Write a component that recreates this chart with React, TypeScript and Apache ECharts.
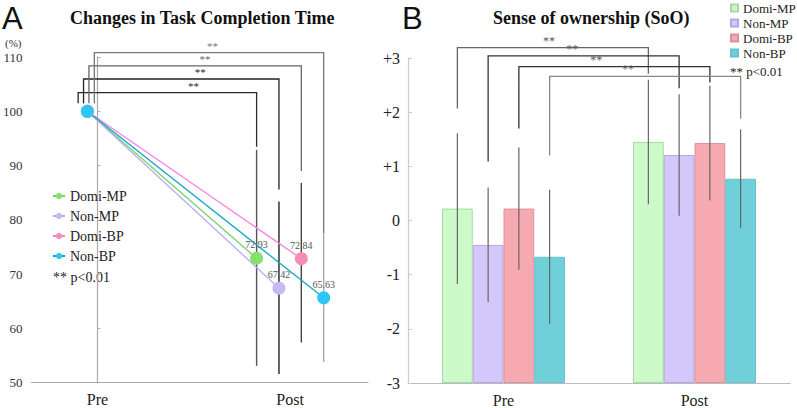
import React, { useEffect, useRef } from "react";
import * as echarts from "echarts";

// ---------- data ----------
const groups = ["Domi-MP", "Non-MP", "Domi-BP", "Non-BP"];
const phases = ["Pre", "Post"];

// Panel A: task completion time (%)
const timePre = [100, 100, 100, 100];
const timePost = [72.93, 67.42, 72.84, 65.63];
const timePostLow = [53.1, 51.6, 57.4, 53.8];
const timePostHigh = [92.9, 83.4, 86.8, 77.5];

// Panel B: sense of ownership
const sooPre = [0.22, -0.45, 0.22, -0.67];
const sooPost = [1.45, 1.21, 1.43, 0.77];
const sooPreSD = [1.39, 1.06, 1.13, 1.24];
const sooPostSD = [1.15, 1.12, 1.06, 0.91];

const sigMark = "**";
const sigNote = "** p<0.01";
const unitA = "(%)";
const titleA = "Changes in Task Completion Time";
const titleB = "Sense of ownership (SoO)";

// ---------- styles ----------
const SERIF = "'Liberation Serif', 'Times New Roman', serif";
const SANS = "'Liberation Sans', Arial, sans-serif";
const pointColors = ["#84e26c", "#c6b8f2", "#f38fb5", "#2ec6f5"];
const lineColors = ["#6fd46a", "#b9aaf0", "#f77fe6", "#14a7c2"];
const errColorsA = ["#555", "#222", "#444", "#aaa"];
const bracketColorsA = ["#2a2a2a", "#222", "#666", "#777"];
const barColors = ["#ccfac8", "#d4c8fa", "#f7a9b2", "#6fd0da"];
const barBorders = ["#a9d8a4", "#b4a6e0", "#dc929b", "#66c2cc"];
const bracketColorsB = ["#666", "#333", "#333", "#888"];

// layout (panel A, x in category units: Pre = 0, Post = 1)
const preX = -0.052;
const postX = (i: number) => 1 + (i - 1.5) * 0.116;
const preLegX = (i: number) => -0.1 + i * 0.028;
const bracketLevelA = [103.45, 105.95, 108.35, 110.8];
const legBottomA = 101.5;
const legGapA = [3, 12, 12, 0];
const starFracA = [0.646, 0.597, 0.547, 0.515];

// layout (panel B)
const barCatGap = 0.356;
const bracketLevelB = [3.19, 3.04, 2.84, 2.66];
const leftLegB = [2.07, 1.09, 1.7, 1.2];
const rightLegB = [2.71, 2.44, 2.55, 1.88];
const starFracB = [0.48, 0.44, 0.405, 0.41];

function noteText(x: number, y: number, text: string, size: number, family: string, color = "#222"): any {
  return {
    type: "text",
    x,
    y,
    style: {
      text,
      fontFamily: family,
      fontSize: size,
      fill: color,
      verticalAlign: "middle",
      width: 200,
      overflow: "none",
    },
  };
}

function optionA(): any {
  const lines = groups.map((g, i) => ({
    type: "line",
    name: g,
    data: [
      [preX, timePre[i]],
      { value: [postX(i), timePost[i]], label: { show: true } },
    ],
    symbol: "circle",
    symbolSize: 13,
    z: 3,
    itemStyle: { color: pointColors[i], borderWidth: 0 },
    lineStyle: { color: lineColors[i], width: 1.3 },
    label: {
      show: false,
      position: "top",
      distance: 2,
      fontSize: 10,
      fontFamily: SERIF,
      color: "#555",
      formatter: (p: any) => Number(p.value[1]).toFixed(2),
    },
    emphasis: { disabled: true },
  }));

  const errSeries = {
    type: "custom",
    z: 2,
    itemStyle: { color: "#444" },
    data: groups.map((_, i) => [postX(i), timePostLow[i], timePostHigh[i], i]),
    renderItem: (params: any, api: any) => {
      const i = params.dataIndex;
      const x = postX(i);
      const p1 = api.coord([x, timePostLow[i]]);
      const p2 = api.coord([x, timePostHigh[i]]);
      return {
        type: "line",
        shape: { x1: p1[0], y1: p1[1], x2: p2[0], y2: p2[1] },
        style: { stroke: errColorsA[i], lineWidth: 1.4 },
      };
    },
  };

  const bracketSeries = {
    type: "custom",
    z: 2,
    itemStyle: { color: "#444" },
    data: groups.map((_, i) => ({ value: [i], itemStyle: { color: bracketColorsA[i] } })),
    renderItem: (params: any, api: any) => {
      const i = params.dataIndex;
      const xl = api.coord([preLegX(i), 100])[0];
      const xr = api.coord([postX(i), 100])[0];
      const yb = api.coord([0, bracketLevelA[i]])[1];
      const yl = api.coord([0, legBottomA])[1];
      const yr = api.coord([0, timePostHigh[i]])[1] - legGapA[i];
      return {
        type: "group",
        children: [
          {
            type: "polyline",
            shape: { points: [[xl, yl], [xl, yb], [xr, yb], [xr, yr]] },
            style: { stroke: bracketColorsA[i], lineWidth: 1.3, fill: null },
          },
          {
            type: "text",
            x: xl + starFracA[i] * (xr - xl),
            y: yb - 1,
            style: {
              text: sigMark,
              fontSize: 11,
              fontFamily: SERIF,
              fill: bracketColorsA[i],
              align: "center",
              verticalAlign: "bottom",
            },
          },
        ],
      };
    },
  };

  return {
    animation: false,
    title: {
      text: titleA,
      left: 65,
      top: 4,
      textStyle: { fontFamily: SERIF, fontSize: 18, fontWeight: "bold", color: "#111" },
    },
    graphic: [
      noteText(2, 18, "A", 31, SANS, "#111"),
      noteText(5, 43, unitA, 11, SERIF, "#333"),
      noteText(53, 277, sigNote, 14, SERIF),
    ],
    legend: {
      data: groups,
      orient: "vertical",
      left: 52,
      top: 189,
      padding: 0,
      itemWidth: 12,
      itemHeight: 8,
      itemGap: 6,
      textStyle: { fontFamily: SERIF, fontSize: 14, lineHeight: 14, color: "#222" },
      selectedMode: false,
    },
    grid: { left: 31, right: 7, top: 57, bottom: 25.3 },
    xAxis: {
      type: "value",
      min: -0.342,
      max: 1.404,
      splitLine: { show: false },
      axisTick: { show: false },
      axisLine: { lineStyle: { color: "#aaa", width: 1.2 } },
      axisLabel: {
        customValues: [0, 1],
        formatter: (v: number) => phases[Math.round(v)] ?? "",
        fontFamily: SERIF,
        fontSize: 16,
        color: "#222",
        margin: 9,
      },
    },
    yAxis: {
      type: "value",
      min: 50,
      max: 110,
      interval: 10,
      splitLine: { show: false },
      axisLine: { show: true, lineStyle: { color: "#aaa", width: 1.2 } },
      axisTick: { show: true, inside: true, length: 3, lineStyle: { color: "#aaa" } },
      axisLabel: { fontFamily: SERIF, fontSize: 13, color: "#333", margin: 9 },
    },
    series: [errSeries, bracketSeries, ...lines],
  };
}

function optionB(): any {
  const bars = groups.map((g, i) => ({
    type: "bar",
    name: g,
    data: [sooPre[i] + 3, sooPost[i] + 3],
    barGap: "0%",
    barCategoryGap: barCatGap * 100 + "%",
    itemStyle: { color: barColors[i], borderColor: barBorders[i], borderWidth: 1 },
    emphasis: { disabled: true },
  }));

  const means = [sooPre, sooPost];
  const sds = [sooPreSD, sooPostSD];
  const errData: number[][] = [];
  for (let c = 0; c < 2; c++)
    for (let g = 0; g < 4; g++)
      errData.push([c, means[c][g] - sds[c][g] + 3, means[c][g] + sds[c][g] + 3, g]);

  const offset = (api: any, g: number) => {
    const band = api.size([1, 0])[0];
    const bw = (band * (1 - barCatGap)) / 4;
    return (g - 1.5) * bw;
  };

  const errSeries = {
    type: "custom",
    z: 3,
    itemStyle: { color: "#666" },
    data: errData,
    renderItem: (params: any, api: any) => {
      const c = api.value(0);
      const g = api.value(3);
      const p1 = api.coord([c, api.value(1)]);
      const p2 = api.coord([c, api.value(2)]);
      const x = p1[0] + offset(api, g);
      return {
        type: "line",
        shape: { x1: x, y1: p1[1], x2: x, y2: p2[1] },
        style: { stroke: "#666", lineWidth: 1.2 },
      };
    },
  };

  const bracketSeries = {
    type: "custom",
    z: 3,
    itemStyle: { color: "#555" },
    data: groups.map((_, i) => ({ value: [0, i], itemStyle: { color: "#555" } })),
    renderItem: (params: any, api: any) => {
      const g = params.dataIndex;
      const xl = api.coord([0, 0])[0] + offset(api, g);
      const xr = api.coord([1, 0])[0] + offset(api, g);
      const yb = api.coord([0, bracketLevelB[g] + 3])[1];
      const yl = api.coord([0, leftLegB[g] + 3])[1];
      const yr = api.coord([0, rightLegB[g] + 3])[1];
      return {
        type: "group",
        children: [
          {
            type: "polyline",
            shape: { points: [[xl, yl], [xl, yb], [xr, yb], [xr, yr]] },
            style: { stroke: bracketColorsB[g], lineWidth: 1.3, fill: null },
          },
          {
            type: "text",
            x: xl + starFracB[g] * (xr - xl),
            y: yb - 1,
            style: {
              text: sigMark,
              fontSize: 12,
              fontFamily: SERIF,
              fill: "#555",
              align: "center",
              verticalAlign: "bottom",
            },
          },
        ],
      };
    },
  };

  return {
    animation: false,
    title: {
      text: titleB,
      left: 113,
      top: 4,
      textStyle: { fontFamily: SERIF, fontSize: 18, fontWeight: "bold", color: "#111" },
    },
    graphic: [
      noteText(27, 18, "B", 31, SANS, "#111"),
      noteText(355, 71, sigNote, 13, SERIF),
    ],
    legend: {
      data: groups,
      orient: "vertical",
      left: 355,
      top: 1.5,
      padding: 0,
      icon: "rect",
      itemWidth: 7,
      itemHeight: 7,
      itemGap: 2,
      textStyle: { fontFamily: SERIF, fontSize: 13, lineHeight: 13, color: "#222" },
      selectedMode: false,
    },
    grid: { left: 33, right: 7, top: 58, bottom: 25 },
    xAxis: {
      type: "category",
      data: phases,
      axisTick: { show: false },
      axisLine: { lineStyle: { color: "#bbb", width: 1.2 } },
      axisLabel: { fontFamily: SERIF, fontSize: 16, color: "#222", margin: 9 },
    },
    yAxis: {
      type: "value",
      min: 0,
      max: 6,
      interval: 1,
      splitLine: { show: false },
      axisLine: { show: true, lineStyle: { color: "#ccc", width: 1.2 } },
      axisTick: { show: true, inside: true, length: 4, lineStyle: { color: "#ccc" } },
      axisLabel: {
        fontFamily: SERIF,
        fontSize: 16,
        color: "#222",
        margin: 8,
        formatter: (v: number) => {
          const o = Math.round(v - 3);
          return o > 0 ? "+" + o : String(o);
        },
      },
    },
    series: [...bars, errSeries, bracketSeries],
  };
}

export default function App() {
  const refA = useRef<HTMLDivElement>(null);
  const refB = useRef<HTMLDivElement>(null);

  useEffect(() => {
    const a = echarts.init(refA.current!, undefined, { renderer: "svg" });
    const b = echarts.init(refB.current!, undefined, { renderer: "svg" });
    a.setOption(optionA());
    b.setOption(optionB());
    return () => {
      a.dispose();
      b.dispose();
    };
  }, []);

  return (
    <div style={{ position: "fixed", left: 0, top: 0, width: 797, height: 408, background: "#fff" }}>
      <div ref={refA} style={{ position: "absolute", left: 0, top: 0, width: 375, height: 408 }} />
      <div ref={refB} style={{ position: "absolute", left: 375, top: 0, width: 422, height: 408 }} />
    </div>
  );
}
